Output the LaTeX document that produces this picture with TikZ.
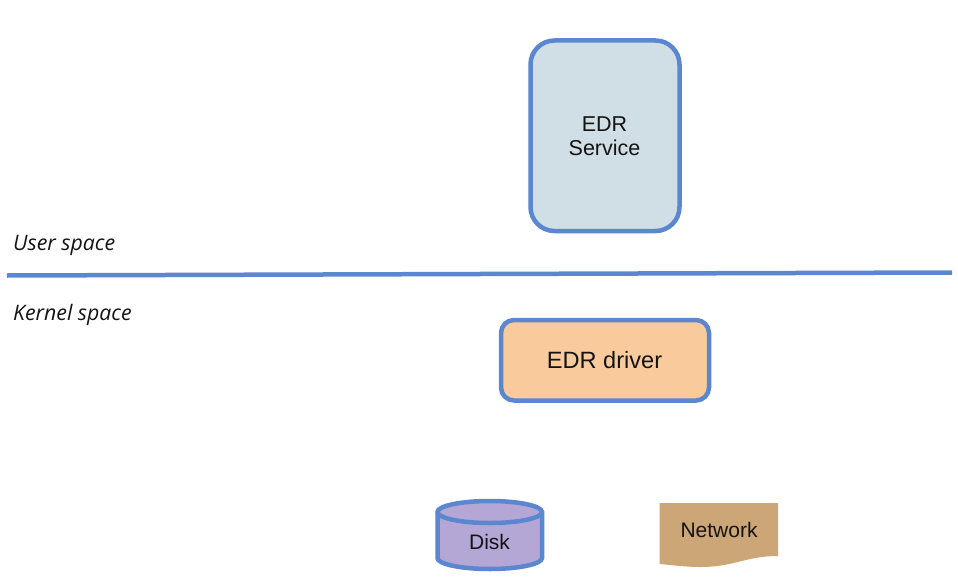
\documentclass[tikz,border=0pt]{standalone}
\usepackage{fontspec}
\setmainfont{Liberation Sans}
\newfontfamily\labelfont{Open Sans}
\definecolor{edgeblue}{HTML}{5B86D0}
\definecolor{svcfill}{HTML}{D0DFE6}
\definecolor{drvfill}{HTML}{F9CB9C}
\definecolor{diskfill}{HTML}{B4A7D6}
\definecolor{netfill}{HTML}{CCA677}
\definecolor{inkdark}{HTML}{141414}
\tikzset{
  x=1pt,y=-1pt,
  boxstyle/.style={draw=edgeblue,line width=4.5pt,rounded corners=#1},
  boxtext/.style={text=inkdark,font=\fontsize{21.5}{24}\selectfont,align=center,inner sep=0pt},
  drivertext/.style={text=inkdark,font=\fontsize{23.6}{26}\selectfont,align=center,inner sep=0pt},
  smalltext/.style={text=inkdark,font=\fontsize{21}{24}\selectfont,align=center,inner sep=0pt},
  sidelabel/.style={text=inkdark,anchor=west,inner sep=0pt,font=\labelfont\itshape\fontsize{21.3}{24}\selectfont},
}
\begin{document}
\begin{tikzpicture}
\useasboundingbox (0,0) rectangle (958,578);
\fill[white] (0,0) rectangle (958,578);
% EDR service
\filldraw[boxstyle=24pt,fill=svcfill] (530.5,40.5) rectangle (679.5,231);
\node[boxtext] (service) at (604.5,136) {EDR\\Service};
% Divider
\coordinate (lineL) at (7,275.5);
\coordinate (lineR) at (952,272.5);
\draw[edgeblue,line width=4.5pt] (lineL) -- (lineR);
\node[sidelabel] (user) at (13,245) {User space};
\node[sidelabel] (kernel) at (13,315) {Kernel space};
% EDR driver
\filldraw[boxstyle=13pt,fill=drvfill] (501,320) rectangle (709,400.5);
\node[drivertext] (driver) at (604.5,360.5) {EDR driver};
% Disk
\filldraw[draw=edgeblue,line width=4.5pt,fill=diskfill]
  (437.5,512) -- (437.5,558) arc[start angle=180,end angle=360,x radius=52.25,y radius=-11]
  -- (542,512) arc[start angle=0,end angle=180,x radius=52.25,y radius=-11] -- cycle;
\draw[edgeblue,line width=4.5pt] (437.5,512) arc[start angle=180,end angle=360,x radius=52.25,y radius=-11];
\node[smalltext] (disk) at (489.5,542) {Disk};
% Network
\fill[netfill] (659.5,503) -- (778,503) -- (778,556)
  .. controls (745,556) and (735,567) .. (700,567)
  .. controls (685,567) and (672,565) .. (659.5,564) -- cycle;
\node[smalltext] (network) at (719,530) {Network};
\end{tikzpicture}
\end{document}
